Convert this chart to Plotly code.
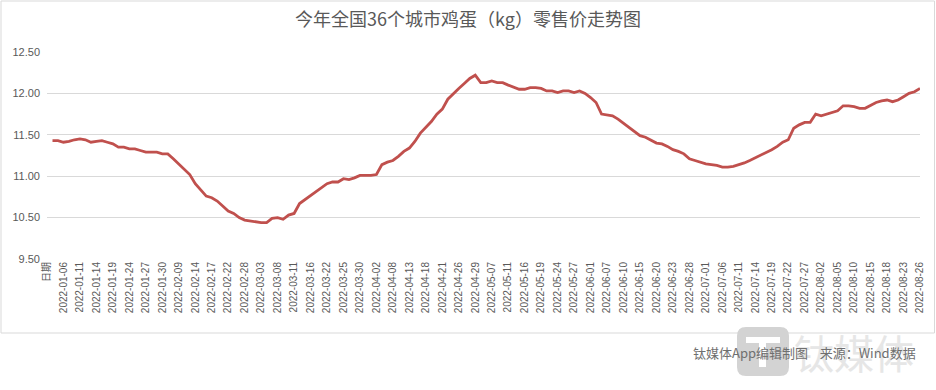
import plotly.graph_objects as go

# ---------------- data ----------------
jan_days = [4, 5, 6, 7, 10, 11, 12, 13, 14, 17, 18, 19, 20, 21, 24, 25, 26, 27, 28, 29, 30]
feb_days = [7, 8, 9, 10, 11, 14, 15, 16, 17, 18, 21, 22, 23, 25, 28]
mar_days = [1, 2, 3, 4, 7, 8, 9, 10, 11, 14, 15, 16, 17, 18, 22, 23, 24, 25, 28, 29, 30, 31]
apr_days = [1, 2, 6, 7, 8, 11, 12, 13, 14, 15, 18, 19, 20, 21, 22, 25, 26, 27, 28, 29]
may_days = [5, 6, 7, 9, 10, 11, 12, 13, 16, 17, 18, 19, 20, 23, 24, 25, 26, 27, 30, 31]
jun_days = [1, 2, 6, 7, 8, 9, 10, 13, 14, 15, 16, 17, 20, 21, 22, 23, 24, 27, 28, 29, 30]
jul_days = [1, 4, 5, 6, 7, 8, 11, 12, 13, 14, 15, 18, 19, 20, 21, 22, 25, 26, 27, 28, 29]
aug_days = [2, 3, 4, 5, 8, 9, 10, 11, 12, 15, 16, 17, 18, 19, 22, 23, 24, 25, 26]

header_label = "日期"

prices = [
    11.43, 11.43, 11.41, 11.42, 11.44, 11.45, 11.44, 11.41, 11.42, 11.43,
    11.41, 11.39, 11.35, 11.35, 11.33, 11.33, 11.31, 11.29, 11.29, 11.29,
    11.27, 11.27, 11.21, 11.15, 11.08, 11.02, 10.91, 10.83, 10.76, 10.74,
    10.70, 10.64, 10.58, 10.55, 10.50, 10.47, 10.46, 10.45, 10.44, 10.44,
    10.49, 10.50, 10.48, 10.53, 10.55, 10.67, 10.72, 10.77, 10.81, 10.87,
    10.91, 10.93, 10.93, 10.97, 10.96, 10.98, 11.01, 11.01, 11.01, 11.02,
    11.14, 11.17, 11.19, 11.24, 11.30, 11.34, 11.42, 11.52, 11.59, 11.66,
    11.75, 11.81, 11.93, 12.00, 12.06, 12.12, 12.18, 12.22, 12.13, 12.13,
    12.15, 12.13, 12.13, 12.10, 12.07, 12.05, 12.05, 12.07, 12.07, 12.06,
    12.03, 12.03, 12.01, 12.03, 12.03, 12.01, 12.03, 12.00, 11.95, 11.89,
    11.75, 11.74, 11.73, 11.69, 11.64, 11.58, 11.53, 11.49, 11.47, 11.44,
    11.40, 11.39, 11.36, 11.32, 11.30, 11.27, 11.21, 11.19, 11.17, 11.15,
    11.14, 11.13, 11.11, 11.11, 11.12, 11.14, 11.16, 11.19, 11.22, 11.26,
    11.29, 11.32, 11.36, 11.41, 11.44, 11.58, 11.62, 11.65, 11.65, 11.75,
    11.73, 11.75, 11.77, 11.79, 11.85, 11.85, 11.84, 11.82, 11.82, 11.86,
    11.89, 11.91, 11.92, 11.90, 11.92, 11.96, 12.00, 12.02, 12.06,
]

y_tick_vals = [10.0, 10.5, 11.0, 11.5, 12.0, 12.5]
y_tick_text = ["9.50", "10.50", "11.00", "11.50", "12.00", "12.50"]

title_text = "今年全国36个城市鸡蛋（kg）零售价走势图"
credit_text = "钛媒体App编辑制图\u00a0\u00a0\u00a0\u00a0来源：Wind数据"
watermark_text = "钛媒体"

# ---------------- build ----------------
months = [(1, jan_days), (2, feb_days), (3, mar_days), (4, apr_days),
          (5, may_days), (6, jun_days), (7, jul_days), (8, aug_days)]
dates = [f"2022-{m:02d}-{d:02d}" for m, ds in months for d in ds]
categories = [header_label] + dates
values = [None] + prices
tick_cats = categories[::3]

W, H = 936, 390
ML, MR, MT, MB = 47, 16, 52, 131
PW, PH = W - ML - MR, H - MT - MB


def px_x(x):
    return (x - ML) / PW


def px_y(y):
    return (H - MB - y) / PH


def rrect(x0, y0, x1, y1, r):
    pts = [
        f"M {px_x(x0 + r)} {px_y(y0)}",
        f"L {px_x(x1 - r)} {px_y(y0)}",
        f"Q {px_x(x1)} {px_y(y0)} {px_x(x1)} {px_y(y0 + r)}",
        f"L {px_x(x1)} {px_y(y1 - r)}",
        f"Q {px_x(x1)} {px_y(y1)} {px_x(x1 - r)} {px_y(y1)}",
        f"L {px_x(x0 + r)} {px_y(y1)}",
        f"Q {px_x(x0)} {px_y(y1)} {px_x(x0)} {px_y(y1 - r)}",
        f"L {px_x(x0)} {px_y(y0 + r)}",
        f"Q {px_x(x0)} {px_y(y0)} {px_x(x0 + r)} {px_y(y0)}",
        "Z",
    ]
    return " ".join(pts)


fig = go.Figure()
fig.add_trace(go.Scatter(
    x=categories, y=values, mode="lines",
    line=dict(color="#C0504D", width=2.8),
    connectgaps=False, hoverinfo="x+y",
))

font_family = "Liberation Sans, Noto Sans CJK SC, sans-serif"
fig.update_layout(
    width=W, height=H,
    margin=dict(l=ML, r=MR, t=MT, b=MB, autoexpand=False),
    paper_bgcolor="white", plot_bgcolor="white",
    showlegend=False,
    title=dict(text=title_text, x=0.5, xref="container", xanchor="center",
               y=1 - 20 / H, yref="container", yanchor="middle",
               font=dict(family="Noto Sans CJK SC", size=18, color="#595959")),
    xaxis=dict(type="category", categoryorder="array", categoryarray=categories,
               tickmode="array", tickvals=tick_cats, ticktext=tick_cats,
               tickangle=-90, showgrid=False, zeroline=False,
               showline=False, ticks="", automargin=False,
               tickfont=dict(family=font_family, size=10, color="#595959")),
    yaxis=dict(range=[10.0, 12.5], tickmode="array", tickvals=y_tick_vals,
               ticktext=y_tick_text, showgrid=True, gridcolor="#D9D9D9",
               gridwidth=1, zeroline=False, showline=False, ticks="",
               ticklabelstandoff=6, automargin=False,
               tickfont=dict(family=font_family, size=11, color="#595959")),
)

shapes = [
    # outer frame
    dict(type="rect", xref="paper", yref="paper",
         x0=px_x(1), x1=px_x(934.5), y0=px_y(1), y1=px_y(333),
         line=dict(color="#D9D9D9", width=1), fillcolor="rgba(0,0,0,0)",
         layer="below"),
    # watermark icon
    dict(type="path", xref="paper", yref="paper", path=rrect(737, 327, 789, 376, 9),
         fillcolor="#D3D3D3", line=dict(width=0), layer="below"),
    dict(type="rect", xref="paper", yref="paper",
         x0=px_x(746), x1=px_x(780), y0=px_y(337), y1=px_y(343),
         fillcolor="white", line=dict(width=0), layer="below"),
    dict(type="rect", xref="paper", yref="paper",
         x0=px_x(759), x1=px_x(766), y0=px_y(343), y1=px_y(367),
         fillcolor="white", line=dict(width=0), layer="below"),
]
fig.update_layout(shapes=shapes)

fig.add_annotation(text=watermark_text, xref="paper", yref="paper",
                   x=px_x(792), y=px_y(352), xanchor="left", yanchor="middle",
                   showarrow=False,
                   font=dict(family="Noto Sans CJK SC", size=40, color="#E6E6E6"))
fig.add_annotation(text=credit_text, xref="paper", yref="paper",
                   x=px_x(918), y=px_y(352), xanchor="right", yanchor="middle",
                   showarrow=False,
                   font=dict(family="Noto Sans CJK SC", size=13, color="#6F6F6F"))

fig.write_html("out.html", config={"displayModeBar": False},
               post_script="document.body.style.margin='0';document.body.style.overflow='hidden';")
